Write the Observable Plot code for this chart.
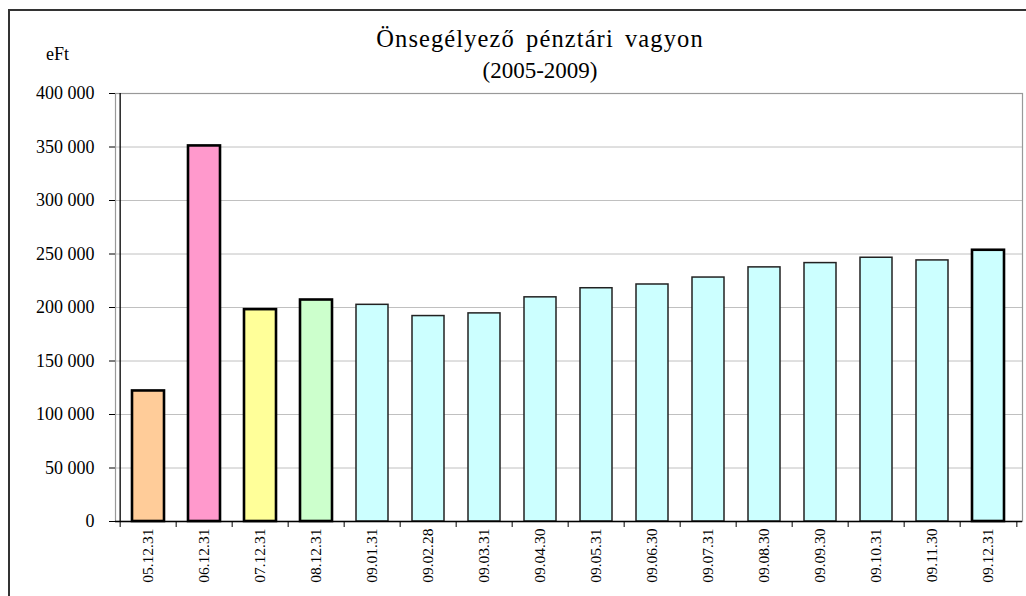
<!DOCTYPE html>
<html>
<head>
<meta charset="utf-8">
<script src="https://cdn.jsdelivr.net/npm/d3@7"></script>
<script src="https://cdn.jsdelivr.net/npm/@observablehq/plot@0.6"></script>
<style>
  body { margin: 0; background: #fff; }
  #wrap { position: relative; width: 1026px; height: 596px; overflow: hidden; background: #fff; font-family: 'Liberation Serif', 'Times New Roman', serif; }
  #outer { position: absolute; left: 8px; top: 9px; width: 1200px; height: 800px; border: 2px solid #333; box-sizing: border-box; }
  #chart { position: absolute; left: 0; top: 0; }
  #title { position: absolute; left: 0; top: 23px; width: 1080px; text-align: center; color: #000; }
  #title div { height: 32px; line-height: 32px; }
  #t1 { font-size: 24.5px; letter-spacing: 1.1px; word-spacing: 4px; }
  #t2 { font-size: 23px; }
</style>
</head>
<body>
<div id="wrap"><div id="outer"></div><div id="chart"></div><div id="title"><div id="t1"></div><div id="t2"></div></div></div>
<script>
// ---- data ----
const dates = ["05.12.31","06.12.31","07.12.31","08.12.31","09.01.31","09.02.28","09.03.31","09.04.30",
               "09.05.31","09.06.30","09.07.31","09.08.30","09.09.30","09.10.31","09.11.30","09.12.31"];
const values = [122000, 351000, 198000, 207000, 202500, 192000, 194500, 209500,
                218000, 221500, 228000, 237500, 241500, 246500, 244000, 253500];
const yTicks = [0, 50000, 100000, 150000, 200000, 250000, 300000, 350000, 400000];
const titleLine1 = "Önsegélyező pénztári vagyon";
const titleLine2 = "(2005-2009)";
const unitLabel = "eFt";
const yearEnd = ["05.12.31","06.12.31","07.12.31","08.12.31","09.12.31"];

// ---- style ----
const palette = ["#FFCC99","#FF99CC","#FFFF99","#CCFFCC"];
const monthly = "#CCFFFF";
const W = 1026, H = 596, mL = 115, mR = 4, mT = 93, mB = 75;
const step = (W - mL - mR) / dates.length;
const font = "'Liberation Serif', 'Times New Roman', serif";

document.getElementById("t1").textContent = titleLine1;
document.getElementById("t2").textContent = titleLine2;

const rows = dates.map((d, i) => ({date: d, value: values[i], i}));
const fmt = v => d3.format(",")(v).replace(/,/g, " ");

const chart = Plot.plot({
  width: W, height: H,
  marginLeft: mL, marginRight: mR, marginTop: mT, marginBottom: mB,
  style: {fontFamily: font, color: "#000", background: "transparent", overflow: "visible"},
  x: {domain: dates, paddingInner: 0.42, paddingOuter: 0.21, axis: null},
  y: {domain: [0, 400000], axis: null},
  marks: [
    Plot.ruleY(yTicks.filter(t => t > 0 && t < 400000), {stroke: "#c0c0c0", strokeWidth: 1}),
    Plot.frame({stroke: "#999", strokeWidth: 1.2}),
    Plot.barY(rows, {
      x: "date", y: "value",
      fill: d => d.i < palette.length ? palette[d.i] : monthly,
      stroke: d => yearEnd.includes(d.date) ? "#000" : "#222",
      strokeWidth: d => yearEnd.includes(d.date) ? 2.6 : 1.5
    }),
    Plot.ruleY([0], {stroke: "#000", strokeWidth: 1.3}),
    Plot.ruleX([dates[0]], {y1: 0, y2: 400000, dx: -step / 2, stroke: "#000", strokeWidth: 1.3}),
    Plot.axisY({ticks: yTicks, tickSize: 6, tickPadding: 15, fontSize: 18, fontFamily: font, tickFormat: fmt, label: null, stroke: "#000", fill: "#000"}),
    Plot.axisX({tickSize: 6, tickFormat: () => "", dx: -step / 2, label: null, stroke: "#000"}),
    Plot.axisX({ticks: [dates[dates.length - 1]], tickSize: 6, tickFormat: () => "", dx: step / 2, label: null, stroke: "#000"}),
    Plot.axisX({tickSize: 0, tickPadding: 7, tickRotate: -90, fontSize: 15.5, fontFamily: font, label: null, fill: "#000"}),
    Plot.text([unitLabel], {text: d => d, frameAnchor: "top-left", textAnchor: "middle", lineAnchor: "bottom", dx: -58, dy: -34, fontSize: 18, fontFamily: font, fill: "#000"})
  ]
});
chart.setAttribute("font-family", font);
document.getElementById("chart").appendChild(chart);
</script>
</body>
</html>
